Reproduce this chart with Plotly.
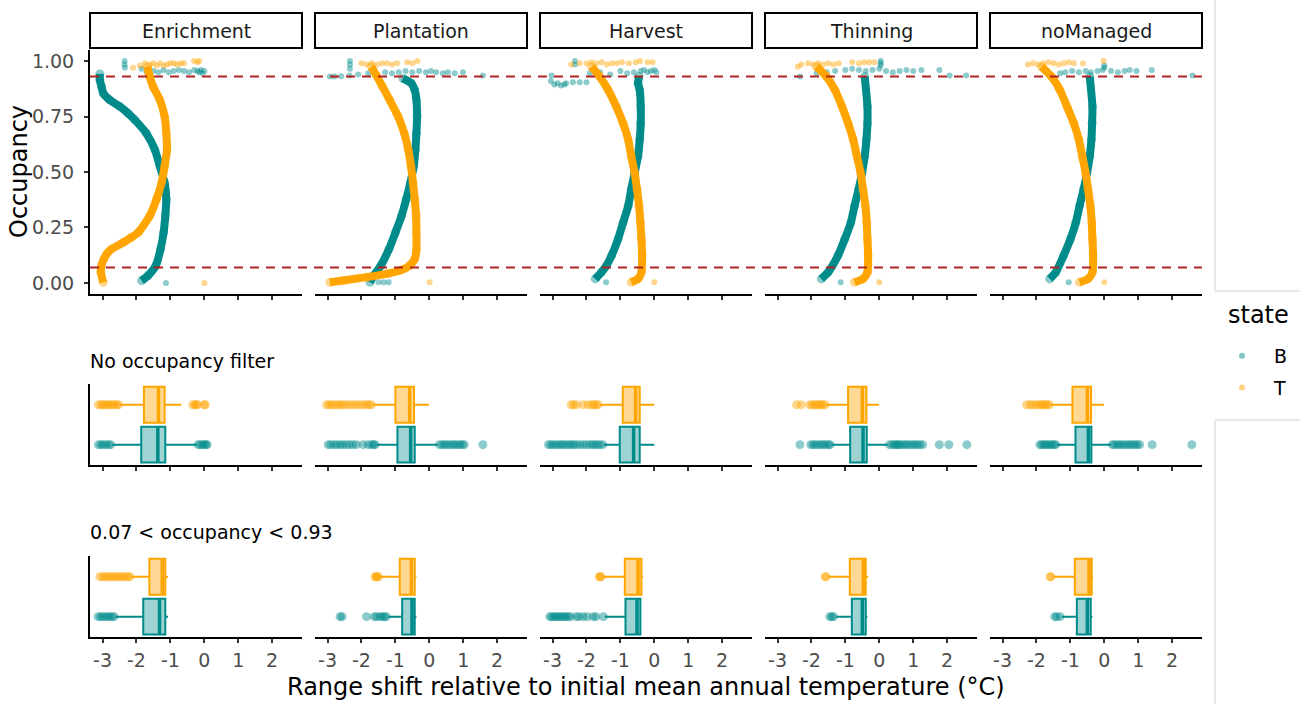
import plotly.graph_objects as go

# ---------------- data ----------------
FACETS = ["Enrichment", "Plantation", "Harvest", "Thinning", "noManaged"]
STATES = ["B", "T"]
X_TICKS = [-3, -2, -1, 0, 1, 2]
Y_TICKS = [0.0, 0.25, 0.5, 0.75, 1.0]
Y_TICK_LABELS = ["0.00", "0.25", "0.50", "0.75", "1.00"]
OCC_LIMITS = [0.07, 0.93]

# main occupancy curves (occupancy, range shift)
B_CURVE_OCC = {
    "Enrichment": [0.942, 0.915, 0.885, 0.855, 0.825, 0.795, 0.765, 0.735, 0.675, 0.601, 0.526, 0.451, 0.377, 0.302, 0.227, 0.152, 0.078, 0.033, 0.010],
    "Plantation": [0.922, 0.900, 0.870, 0.825, 0.751, 0.675, 0.601, 0.526, 0.451, 0.377, 0.302, 0.227, 0.152, 0.078, 0.033, 0.003],
    "Harvest": [0.930, 0.900, 0.870, 0.795, 0.720, 0.646, 0.571, 0.496, 0.422, 0.347, 0.272, 0.197, 0.123, 0.078, 0.048, 0.018],
    "Thinning": [0.930, 0.795, 0.720, 0.646, 0.571, 0.496, 0.422, 0.347, 0.272, 0.197, 0.123, 0.048, 0.018],
    "noManaged": [0.930, 0.795, 0.720, 0.646, 0.571, 0.496, 0.422, 0.347, 0.272, 0.197, 0.123, 0.048, 0.018],
}
B_CURVE_SHIFT = {
    "Enrichment": [-3.08, -3.08, -3.03, -2.98, -2.79, -2.49, -2.25, -2.05, -1.71, -1.46, -1.31, -1.17, -1.12, -1.15, -1.20, -1.29, -1.43, -1.66, -1.85],
    "Plantation": [-0.78, -0.53, -0.43, -0.38, -0.36, -0.38, -0.41, -0.46, -0.56, -0.68, -0.82, -1.00, -1.19, -1.43, -1.64, -1.75],
    "Harvest": [-0.45, -0.48, -0.43, -0.40, -0.40, -0.43, -0.48, -0.58, -0.68, -0.77, -0.92, -1.07, -1.26, -1.41, -1.56, -1.74],
    "Thinning": [-0.43, -0.35, -0.35, -0.38, -0.43, -0.51, -0.61, -0.73, -0.84, -1.02, -1.22, -1.51, -1.71],
    "noManaged": [-0.43, -0.35, -0.36, -0.38, -0.43, -0.51, -0.61, -0.73, -0.84, -1.00, -1.20, -1.43, -1.61],
}
T_CURVE_OCC = {
    "Enrichment": [0.975, 0.930, 0.885, 0.825, 0.751, 0.675, 0.601, 0.526, 0.451, 0.377, 0.302, 0.227, 0.205, 0.182, 0.152, 0.130, 0.108, 0.078, 0.048, 0.003],
    "Plantation": [0.975, 0.930, 0.885, 0.825, 0.751, 0.675, 0.601, 0.526, 0.451, 0.377, 0.302, 0.227, 0.152, 0.108, 0.078, 0.056, 0.041, 0.026, 0.011, 0.003],
    "Harvest": [0.975, 0.930, 0.870, 0.795, 0.720, 0.646, 0.571, 0.496, 0.422, 0.347, 0.272, 0.197, 0.123, 0.048, 0.018, 0.003],
    "Thinning": [0.975, 0.930, 0.870, 0.795, 0.720, 0.646, 0.571, 0.496, 0.422, 0.347, 0.272, 0.197, 0.123, 0.048, 0.018, 0.003],
    "noManaged": [0.975, 0.930, 0.870, 0.795, 0.720, 0.646, 0.571, 0.496, 0.422, 0.347, 0.272, 0.197, 0.123, 0.048, 0.018, 0.003],
}
T_CURVE_SHIFT = {
    "Enrichment": [-1.68, -1.61, -1.51, -1.31, -1.17, -1.12, -1.10, -1.17, -1.26, -1.41, -1.61, -1.95, -2.15, -2.39, -2.74, -2.88, -2.96, -3.03, -3.05, -2.98],
    "Plantation": [-1.71, -1.54, -1.38, -1.17, -0.92, -0.74, -0.62, -0.54, -0.48, -0.43, -0.39, -0.38, -0.38, -0.43, -0.58, -0.87, -1.26, -1.85, -2.54, -2.93],
    "Harvest": [-1.85, -1.61, -1.36, -1.12, -0.92, -0.77, -0.68, -0.58, -0.51, -0.45, -0.41, -0.38, -0.36, -0.38, -0.48, -0.68],
    "Thinning": [-1.85, -1.56, -1.31, -1.10, -0.92, -0.77, -0.66, -0.55, -0.48, -0.41, -0.37, -0.35, -0.33, -0.35, -0.48, -0.73],
    "noManaged": [-1.85, -1.56, -1.31, -1.10, -0.90, -0.75, -0.65, -0.55, -0.48, -0.41, -0.37, -0.35, -0.33, -0.35, -0.48, -0.73],
}

# scattered points away from the main curves
B_EXTRA_SHIFT = {
    "Enrichment": [-2.35, -2.35, -2.34, -1.85, -1.7, -1.5, -1.35, -1.2, -1.05, -0.9, -0.75, -0.6, -0.45, -0.3, -0.2, -0.15, -0.1, -0.05, 0.0, -1.13],
    "Plantation": [-2.34, -2.34, -2.34, -2.93, -2.8, -2.6, -2.35, -2.1, -1.8, -1.6, -1.3, -1.1, -0.9, -0.7, -0.5, -0.3, -0.1, 0.05, 0.2, 0.4, 0.55, 0.75, 0.99, 1.58, -1.5, -1.35, -1.2],
    "Harvest": [-3.05, -2.95, -2.85, -2.75, -2.65, -2.6, -3.03, -2.4, -2.2, -2.0, -2.34, -2.34, -1.9, -1.6, -1.3, -1.0, -0.8, -0.6, -0.4, -0.3, -0.2, -0.1, 0.0, 0.06, -1.42],
    "Thinning": [-2.34, -1.85, -1.55, -1.3, -1.0, -0.8, -0.6, -0.4, -0.2, 0.0, 0.04, 0.04, 0.04, 0.2, 0.4, 0.6, 0.8, 1.0, 1.24, 1.77, 2.07, 2.56, -1.14],
    "noManaged": [-1.3, -1.15, -0.95, -0.75, -0.55, -0.4, -0.2, -0.05, 0.0, 0.0, 0.2, 0.4, 0.6, 0.75, 0.95, 1.4, 2.6, -1.05],
}
B_EXTRA_OCC = {
    "Enrichment": [1.0, 0.985, 0.97, 0.965, 0.95, 0.955, 0.95, 0.96, 0.95, 0.955, 0.96, 0.955, 0.95, 0.96, 0.955, 0.95, 0.96, 0.945, 0.955, 0.0],
    "Plantation": [1.0, 0.985, 0.965, 0.93, 0.93, 0.932, 0.935, 0.94, 0.945, 0.94, 0.95, 0.945, 0.95, 0.955, 0.95, 0.955, 0.95, 0.955, 0.95, 0.945, 0.95, 0.945, 0.95, 0.935, 0.003, 0.003, 0.003],
    "Harvest": [0.91, 0.895, 0.9, 0.89, 0.895, 0.9, 0.935, 0.905, 0.905, 0.905, 1.0, 0.985, 0.945, 0.95, 0.94, 0.955, 0.945, 0.95, 0.955, 0.96, 0.95, 0.955, 0.96, 0.95, 0.003],
    "Thinning": [0.93, 0.945, 0.95, 0.955, 0.96, 0.965, 0.96, 0.955, 0.96, 0.965, 0.98, 0.99, 1.0, 0.955, 0.95, 0.955, 0.96, 0.955, 0.96, 0.96, 0.935, 0.935, 0.003],
    "noManaged": [0.945, 0.95, 0.955, 0.95, 0.955, 0.95, 0.955, 0.96, 0.97, 0.98, 0.955, 0.95, 0.955, 0.96, 0.955, 0.96, 0.935, 0.003],
}
T_EXTRA_SHIFT = {
    "Enrichment": [-2.1, -1.9, -1.75, -1.6, -1.5, -1.4, -1.3, -1.2, -1.1, -1.0, -0.9, -0.8, -0.7, -0.6, -0.3, -0.2, -0.15, 0.0],
    "Plantation": [-2.0, -1.85, -1.7, -1.55, -1.4, -1.25, -1.1, -0.95, -0.65, -0.5, -0.35, 0.01],
    "Harvest": [-2.45, -2.2, -2.0, -1.85, -1.7, -1.55, -1.4, -1.25, -1.1, -0.95, -0.75, -0.55, -0.42, -0.2, -0.05, 0.0],
    "Thinning": [-2.4, -2.3, -2.1, -1.95, -1.8, -1.65, -1.5, -1.35, -1.2, -0.8, -0.6, -0.45, -0.3, -0.15, 0.0],
    "noManaged": [-2.25, -2.1, -1.95, -1.8, -1.65, -1.5, -1.35, -1.2, -1.05, -0.9, -0.63, -0.02, 0.0],
}
T_EXTRA_OCC = {
    "Enrichment": [0.97, 0.98, 0.99, 0.985, 0.99, 0.98, 0.99, 0.98, 0.985, 0.99, 0.99, 0.985, 0.99, 0.99, 1.0, 0.995, 1.0, 0.0],
    "Plantation": [0.99, 0.985, 0.99, 0.985, 0.99, 0.99, 0.985, 0.99, 0.995, 0.99, 1.0, 0.003],
    "Harvest": [0.985, 0.99, 0.99, 0.995, 0.99, 0.995, 0.985, 0.99, 0.99, 0.995, 0.99, 0.995, 1.0, 0.995, 0.995, 0.003],
    "Thinning": [0.975, 0.985, 0.99, 0.985, 0.99, 0.985, 0.99, 0.985, 0.99, 0.995, 0.99, 0.995, 0.995, 0.995, 0.003],
    "noManaged": [0.985, 0.99, 0.985, 0.99, 0.995, 0.99, 0.985, 0.99, 0.995, 0.99, 0.99, 1.0, 0.003],
}

# box statistics: (lower whisker, q1, median, q3, upper whisker)
BOX_ALL_B = {
    "Enrichment": (-2.72, -1.86, -1.37, -1.15, -0.22),
    "Plantation": (-1.55, -0.94, -0.55, -0.43, 0.25),
    "Harvest": (-1.48, -1.02, -0.61, -0.43, 0.0),
    "Thinning": (-1.41, -0.86, -0.48, -0.37, 0.25),
    "noManaged": (-1.40, -0.85, -0.47, -0.38, 0.20),
}
BOX_ALL_T = {
    "Enrichment": (-2.50, -1.78, -1.35, -1.17, -0.68),
    "Plantation": (-1.66, -1.00, -0.58, -0.45, -0.01),
    "Harvest": (-1.60, -0.93, -0.55, -0.43, 0.0),
    "Thinning": (-1.56, -0.92, -0.50, -0.38, -0.01),
    "noManaged": (-1.58, -0.94, -0.50, -0.39, -0.01),
}
OUT_ALL_B = {
    "Enrichment": [-3.12, -3.05, -2.98, -2.9, -2.82, -2.76, -0.18, -0.12, -0.06, 0.0, 0.05, 0.08],
    "Plantation": [-2.98, -2.9, -2.8, -2.72, -2.62, -2.55, -2.45, -2.35, -2.25, -2.15, -1.95, -1.8, -1.7, -1.64, -1.6,
                   0.3, 0.38, 0.45, 0.52, 0.6, 0.68, 0.75, 0.82, 0.9, 0.97, 1.03, 1.58],
    "Harvest": [-3.12, -3.05, -2.98, -2.9, -2.82, -2.75, -2.68, -2.6, -2.52, -2.45, -2.38, -2.3, -2.2, -2.1, -2.0, -1.9,
                -1.82, -1.75, -1.68, -1.6, -1.52],
    "Thinning": [-2.34, -2.02, -1.95, -1.88, -1.8, -1.72, -1.65, -1.58, -1.5, -1.45,
                 0.3, 0.38, 0.45, 0.5, 0.55, 0.6, 0.68, 0.75, 0.82, 0.9, 0.98, 1.05, 1.12, 1.2, 1.28, 1.77, 2.05, 2.58],
    "noManaged": [-1.9, -1.84, -1.78, -1.72, -1.66, -1.6, -1.54, -1.48, -1.43,
                  0.24, 0.3, 0.38, 0.45, 0.52, 0.6, 0.68, 0.75, 0.82, 0.9, 0.97, 1.04, 1.41, 2.58],
}
OUT_ALL_T = {
    "Enrichment": [-3.12, -3.05, -2.98, -2.92, -2.85, -2.78, -2.72, -2.65, -2.58, -2.53, -0.34, -0.28, -0.24, -0.2, 0.0, 0.03],
    "Plantation": [-3.03, -2.95, -2.88, -2.8, -2.7, -2.62, -2.55, -2.45, -2.35, -2.25, -2.15, -2.05, -1.95, -1.85, -1.78, -1.71],
    "Harvest": [-2.45, -2.38, -2.3, -2.1, -1.95, -1.85, -1.78, -1.72, -1.66],
    "Thinning": [-2.44, -2.3, -2.05, -1.98, -1.9, -1.84, -1.78, -1.72, -1.66, -1.6],
    "noManaged": [-2.29, -2.18, -2.1, -2.0, -1.93, -1.86, -1.8, -1.74, -1.68, -1.62],
}
BOX_FILT_B = {
    "Enrichment": (-2.61, -1.80, -1.32, -1.15, -1.07),
    "Plantation": (-1.20, -0.80, -0.51, -0.43, -0.38),
    "Harvest": (-1.46, -0.85, -0.51, -0.41, -0.38),
    "Thinning": (-1.27, -0.81, -0.50, -0.40, -0.35),
    "noManaged": (-1.25, -0.81, -0.50, -0.40, -0.35),
}
BOX_FILT_T = {
    "Enrichment": (-2.15, -1.62, -1.24, -1.15, -1.07),
    "Plantation": (-1.45, -0.87, -0.53, -0.43, -0.38),
    "Harvest": (-1.50, -0.87, -0.48, -0.38, -0.33),
    "Thinning": (-1.50, -0.87, -0.47, -0.40, -0.33),
    "noManaged": (-1.50, -0.87, -0.45, -0.37, -0.33),
}
OUT_FILT_B = {
    "Enrichment": [-3.13, -3.06, -2.99, -2.92, -2.85, -2.78, -2.72, -2.66],
    "Plantation": [-2.63, -2.57, -1.85, -1.62, -1.55, -1.45, -1.38, -1.32, -1.27],
    "Harvest": [-3.08, -3.02, -2.96, -2.9, -2.84, -2.78, -2.72, -2.66, -2.6, -2.54, -2.47, -2.3, -2.22, -2.1, -1.98, -1.8, -1.72, -1.5],
    "Thinning": [-1.46, -1.4, -1.35],
    "noManaged": [-1.46, -1.4, -1.3],
}
OUT_FILT_T = {
    "Enrichment": [-3.08, -3.0, -2.92, -2.85, -2.78, -2.7, -2.62, -2.55, -2.48, -2.4, -2.32, -2.25, -2.19],
    "Plantation": [-1.6, -1.57, -1.54, -1.5],
    "Harvest": [-1.62, -1.6, -1.57],
    "Thinning": [-1.6, -1.57],
    "noManaged": [-1.6, -1.57],
}
ROW_TITLES = ["No occupancy filter", "0.07 < occupancy < 0.93"]
X_TITLE = "Range shift relative to initial mean annual temperature (°C)"
Y_TITLE = "Occupancy"
LEGEND_TITLE = "state"

# ---------------- style ----------------
W, H = 1300, 704
COL = {"B": "#008B8B", "T": "#FFA500"}
FILL = {"B": "rgba(0,139,139,0.38)", "T": "rgba(255,165,0,0.42)"}
POS = {"B": 1, "T": 2}
FONT = "DejaVu Sans"
X_RANGE = [-3.37, 2.88]
PANEL_X = [(90 + 225 * c, 302 + 225 * c) for c in range(5)]
PANEL_Y = [(50, 294), (384, 465), (556, 637)]


def fx(p):
    return p / W


def fy(p):
    return 1 - p / H


fig = go.Figure()
layout = {}
for r in range(3):
    for c in range(5):
        i = r * 5 + c + 1
        xa = "xaxis" if i == 1 else f"xaxis{i}"
        ya = "yaxis" if i == 1 else f"yaxis{i}"
        layout[xa] = dict(
            domain=[fx(PANEL_X[c][0]), fx(PANEL_X[c][1])], anchor=f"y{i}" if i > 1 else "y",
            range=X_RANGE, tickvals=X_TICKS, ticktext=[str(v) for v in X_TICKS],
            showticklabels=(r == 2), ticks="outside", ticklen=4, tickwidth=1.5, tickcolor="#333333",
            showline=True, linecolor="black", linewidth=2, showgrid=False, zeroline=False,
            tickfont=dict(family=FONT, size=19, color="#4D4D4D"), ticklabelstandoff=1,
        )
        if r == 0:
            layout[ya] = dict(
                domain=[fy(PANEL_Y[r][1]), fy(PANEL_Y[r][0])], anchor=f"x{i}" if i > 1 else "x",
                range=[-0.05, 1.05], tickvals=Y_TICKS, ticktext=Y_TICK_LABELS,
                showticklabels=(c == 0), ticks="outside" if c == 0 else "", ticklen=4, tickwidth=1.5,
                tickcolor="#333333", showline=(c == 0), linecolor="black", linewidth=2,
                showgrid=False, zeroline=False, tickfont=dict(family=FONT, size=19, color="#4D4D4D"),
                ticklabelstandoff=6,
            )
        else:
            layout[ya] = dict(
                domain=[fy(PANEL_Y[r][1]), fy(PANEL_Y[r][0])], anchor=f"x{i}",
                range=[0.49, 2.52], showticklabels=False, ticks="", showline=(c == 0),
                linecolor="black", linewidth=2, showgrid=False, zeroline=False,
            )

# top row scatter
for c, f in enumerate(FACETS):
    i = c + 1
    xr = "x" if i == 1 else f"x{i}"
    yr = "y" if i == 1 else f"y{i}"
    for s, cx, cy, ex, ey in (("B", B_CURVE_SHIFT, B_CURVE_OCC, B_EXTRA_SHIFT, B_EXTRA_OCC),
                              ("T", T_CURVE_SHIFT, T_CURVE_OCC, T_EXTRA_SHIFT, T_EXTRA_OCC)):
        fig.add_trace(go.Scatter(x=cx[f], y=cy[f], mode="lines", xaxis=xr, yaxis=yr,
                                 line=dict(color=COL[s], width=8, shape="spline", smoothing=0.6),
                                 showlegend=False, hoverinfo="skip"))
        fig.add_trace(go.Scatter(x=cx[f], y=cy[f], mode="markers", xaxis=xr, yaxis=yr,
                                 marker=dict(color=COL[s], size=9, opacity=0.45, line=dict(width=0)),
                                 showlegend=False, hoverinfo="skip"))
        fig.add_trace(go.Scatter(x=ex[f], y=ey[f], mode="markers", xaxis=xr, yaxis=yr,
                                 marker=dict(color=COL[s], size=6, opacity=0.45, line=dict(width=0)),
                                 showlegend=False, hoverinfo="skip"))

# box rows
for r, (bstats, tstats, bout, tout) in enumerate(((BOX_ALL_B, BOX_ALL_T, OUT_ALL_B, OUT_ALL_T),
                                                   (BOX_FILT_B, BOX_FILT_T, OUT_FILT_B, OUT_FILT_T)), start=1):
    for c, f in enumerate(FACETS):
        i = r * 5 + c + 1
        xr, yr = f"x{i}", f"y{i}"
        for s, st, out in (("B", bstats, bout), ("T", tstats, tout)):
            lo, q1, med, q3, hi = st[f]
            p = POS[s]
            fig.add_trace(go.Box(orientation="h", y=[p], q1=[q1], median=[med], q3=[q3],
                                 lowerfence=[lo], upperfence=[hi], width=0.9, whiskerwidth=0,
                                 fillcolor=FILL[s], line=dict(color=COL[s], width=2),
                                 boxpoints=False, xaxis=xr, yaxis=yr, showlegend=False, hoverinfo="skip"))
            fig.add_trace(go.Scatter(x=[med, med], y=[p - 0.43, p + 0.43], mode="lines",
                                     line=dict(color=COL[s], width=3.5), xaxis=xr, yaxis=yr,
                                     showlegend=False, hoverinfo="skip"))
            fig.add_trace(go.Scatter(x=out[f], y=[p] * len(out[f]), mode="markers",
                                     marker=dict(color=COL[s], size=9, opacity=0.45, line=dict(width=0)),
                                     xaxis=xr, yaxis=yr, showlegend=False, hoverinfo="skip"))

# legend entries
for s in STATES:
    fig.add_trace(go.Scatter(x=[None], y=[None], mode="markers", name="\u00a0\u00a0" + s, legendgroup=s,
                             marker=dict(color=COL[s], size=6, opacity=0.5), xaxis="x", yaxis="y"))

shapes = []
# dashed occupancy thresholds
for v in OCC_LIMITS:
    shapes.append(dict(type="line", xref="paper", yref="y", x0=fx(90), x1=fx(1202), y0=v, y1=v,
                       line=dict(color="#B22222", width=2, dash="9px,7px"), layer="above"))
# strips
annotations = []
for c, f in enumerate(FACETS):
    x0, x1 = PANEL_X[c]
    shapes.append(dict(type="rect", xref="paper", yref="paper", x0=fx(x0), x1=fx(x1), y0=fy(48), y1=fy(13),
                       line=dict(color="black", width=2), fillcolor="white"))
    annotations.append(dict(text=f, xref="paper", yref="paper", x=fx((x0 + x1) / 2), y=fy(31),
                            showarrow=False, font=dict(family=FONT, size=19, color="#1A1A1A"),
                            xanchor="center", yanchor="middle"))
# legend side panel borders
for (ya, yb) in ((-5, 291), (420, 710)):
    shapes.append(dict(type="rect", xref="paper", yref="paper", x0=fx(1215), x1=fx(1310), y0=fy(yb), y1=fy(ya),
                       line=dict(color="#D4D4D4", width=1), fillcolor="rgba(0,0,0,0)"))

annotations.append(dict(text=Y_TITLE, xref="paper", yref="paper", x=fx(19), y=fy(172), textangle=-90,
                        showarrow=False, font=dict(family=FONT, size=24, color="black"),
                        xanchor="center", yanchor="middle"))
annotations.append(dict(text=X_TITLE, xref="paper", yref="paper", x=fx(646), y=fy(687),
                        showarrow=False, font=dict(family=FONT, size=24, color="black"),
                        xanchor="center", yanchor="middle"))
annotations.append(dict(text=LEGEND_TITLE, xref="paper", yref="paper", x=fx(1226), y=fy(315),
                        showarrow=False, font=dict(family=FONT, size=24, color="black"),
                        xanchor="left", yanchor="middle"))
for t, yp in zip(ROW_TITLES, (361, 532)):
    annotations.append(dict(text=t, xref="paper", yref="paper", x=fx(88), y=fy(yp),
                            showarrow=False, font=dict(family=FONT, size=19, color="black"),
                            xanchor="left", yanchor="middle"))

fig.update_layout(
    width=W, height=H, margin=dict(l=0, r=0, t=0, b=0),
    paper_bgcolor="white", plot_bgcolor="white",
    font=dict(family=FONT, color="black"),
    shapes=shapes, annotations=annotations,
    legend=dict(x=fx(1222), y=fy(337), xanchor="left", yanchor="top",
                font=dict(family=FONT, size=19, color="black"), tracegroupgap=4,
                itemsizing="trace", bgcolor="rgba(0,0,0,0)"),
    **layout,
)

fig.write_html("out.html", config={"displayModeBar": False},
               post_script="document.body.style.margin='0';document.body.style.overflow='hidden';")
